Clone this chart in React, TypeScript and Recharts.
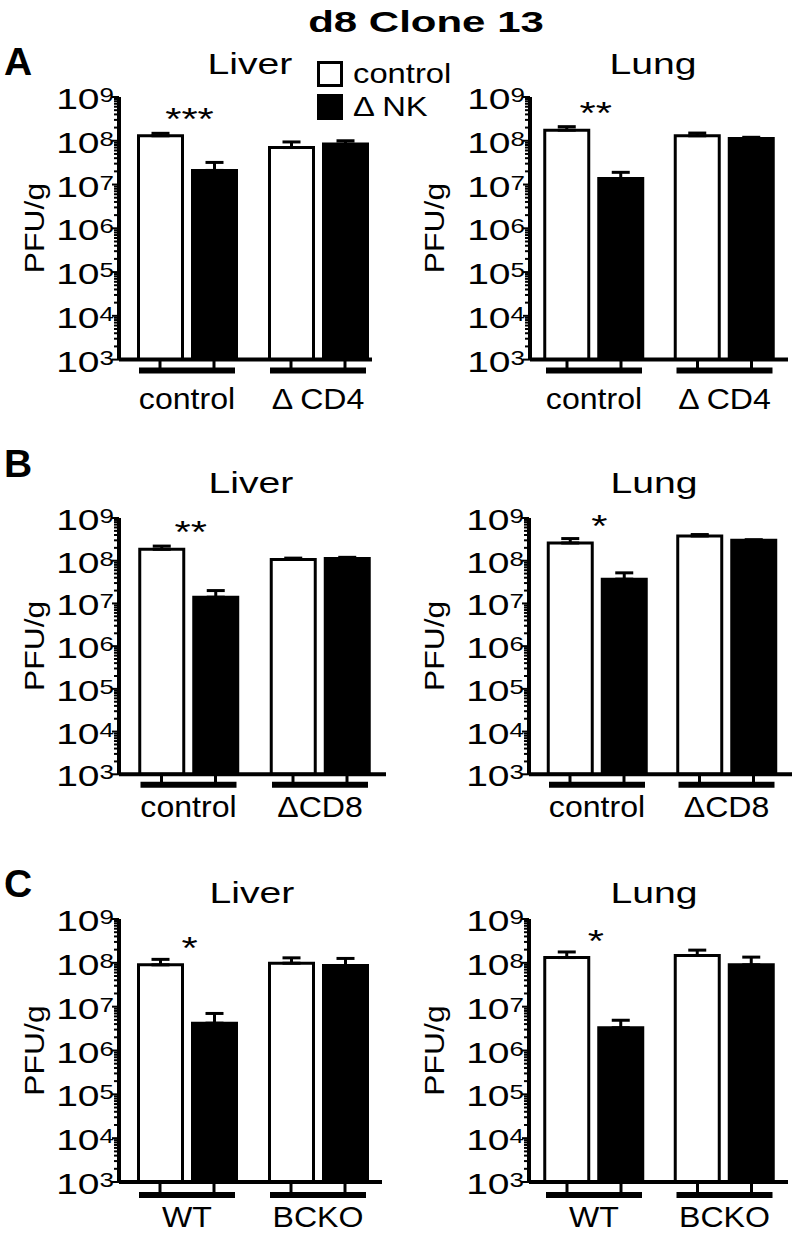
import React from 'react';
import { BarChart, Bar, XAxis, YAxis, ErrorBar, LabelList } from 'recharts';

const FONT = '"Liberation Sans", Arial, Helvetica, sans-serif';

// x-axis groups for each row
const groupsA = ['control', 'Δ CD4'];
const groupsB = ['control', 'ΔCD8'];
const groupsC = ['WT', 'BCKO'];

// PFU/g, mean and upper error (control = open bars, ΔNK = filled bars)
const liverACtrl = [1.3e8, 7.0e7];
const liverACtrlErr = [1.8e7, 2.4e7];
const liverANk = [2.1e7, 8.4e7];
const liverANkErr = [1.1e7, 1.6e7];
const liverASig = ['***', ''];

const lungACtrl = [1.75e8, 1.3e8];
const lungACtrlErr = [3.5e7, 2.0e7];
const lungANk = [1.37e7, 1.12e8];
const lungANkErr = [5.3e6, 8e6];
const lungASig = ['**', ''];

const liverBCtrl = [1.85e8, 1.07e8];
const liverBCtrlErr = [3.5e7, 8e6];
const liverBNk = [1.4e7, 1.13e8];
const liverBNkErr = [6e6, 7e6];
const liverBSig = ['**', ''];

const lungBCtrl = [2.6e8, 3.8e8];
const lungBCtrlErr = [7e7, 3e7];
const lungBNk = [3.7e7, 3.0e8];
const lungBNkErr = [1.5e7, 1e7];
const lungBSig = ['*', ''];

const liverCCtrl = [9.0e7, 9.8e7];
const liverCCtrlErr = [3.0e7, 3.2e7];
const liverCNk = [4.2e6, 8.7e7];
const liverCNkErr = [2.8e6, 3.9e7];
const liverCSig = ['*', ''];

const lungCCtrl = [1.32e8, 1.47e8];
const lungCCtrlErr = [4.5e7, 4.8e7];
const lungCNk = [3.3e6, 9.0e7];
const lungCNkErr = [1.6e6, 4.5e7];
const lungCSig = ['*', ''];

const series = [
  { key: 'ctrl', name: 'control', fill: '#fff' },
  { key: 'nk', name: 'Δ NK', fill: '#000' },
];

// log axis ticks: decades plus 2..9 minor ticks
const decades = [1e3, 1e4, 1e5, 1e6, 1e7, 1e8, 1e9];
const minorSteps = [2, 3, 4, 5, 6, 7, 8, 9];
const yTicks = decades.flatMap((d, i) => (i < decades.length - 1 ? [d, ...minorSteps.map((m) => m * d)] : [d]));

const rowLetters = [
  { text: 'A', y: 75 },
  { text: 'B', y: 477 },
  { text: 'C', y: 897 },
];

const MT = 40;
const XH = 60;

const panels = [
  { title: 'Liver', groups: groupsA, ctrl: liverACtrl, ctrlErr: liverACtrlErr, nk: liverANk, nkErr: liverANkErr, sig: liverASig,
    left: 0, axisX: 119, top: 96.7, bottom: 359.3, c1: 187, c2: 318, end: 372, groupDy: 11, labelDy: 49, titleX: 250, titleY: 74 },
  { title: 'Lung', groups: groupsA, ctrl: lungACtrl, ctrlErr: lungACtrlErr, nk: lungANk, nkErr: lungANkErr, sig: lungASig,
    left: 400, axisX: 530, top: 96.7, bottom: 359.3, c1: 594, c2: 724.5, end: 788, groupDy: 11, labelDy: 49, titleX: 653, titleY: 74 },
  { title: 'Liver', groups: groupsB, ctrl: liverBCtrl, ctrlErr: liverBCtrlErr, nk: liverBNk, nkErr: liverBNkErr, sig: liverBSig,
    left: 0, axisX: 119, top: 517.7, bottom: 774, c1: 188.5, c2: 320, end: 386, groupDy: 10.5, labelDy: 43, titleX: 251, titleY: 493 },
  { title: 'Lung', groups: groupsB, ctrl: lungBCtrl, ctrlErr: lungBCtrlErr, nk: lungBNk, nkErr: lungBNkErr, sig: lungBSig,
    left: 400, axisX: 529, top: 517.7, bottom: 774, c1: 597, c2: 726.5, end: 792, groupDy: 10.5, labelDy: 43, titleX: 654, titleY: 493 },
  { title: 'Liver', groups: groupsC, ctrl: liverCCtrl, ctrlErr: liverCCtrlErr, nk: liverCNk, nkErr: liverCNkErr, sig: liverCSig,
    left: 0, axisX: 119, top: 919, bottom: 1182, c1: 187, c2: 318, end: 382, groupDy: 13, labelDy: 45, titleX: 252, titleY: 903 },
  { title: 'Lung', groups: groupsC, ctrl: lungCCtrl, ctrlErr: lungCCtrlErr, nk: lungCNk, nkErr: lungCNkErr, sig: lungCSig,
    left: 400, axisX: 529, top: 919, bottom: 1182, c1: 594, c2: 724.5, end: 788, groupDy: 13, labelDy: 45, titleX: 654, titleY: 903 },
];

function Wide({ x, y, sx = 1, size, anchor = 'start', weight = 'normal', children }: any) {
  return (
    <g transform={`translate(${x},${y}) scale(${sx},1)`}>
      <text x={0} y={0} textAnchor={anchor} fontFamily={FONT} fontSize={size} fontWeight={weight} fill="#000">
        {children}
      </text>
    </g>
  );
}

function LogTick(props: any) {
  const { x, y, payload } = props;
  const v = payload.value;
  const major = decades.includes(v);
  const len = major ? 7 : 5;
  return (
    <g>
      <line x1={x - len} x2={x} y1={y} y2={y} stroke="#000" strokeWidth={2} />
      {major && (
        <g transform={`translate(${x - 5},${y + 12}) scale(1.3,1)`}>
          <text x={0} y={0} textAnchor="end" fontFamily={FONT} fontSize={30} fill="#000">
            10
            <tspan fontSize={20} dy={-7}>
              {Math.round(Math.log10(v))}
            </tspan>
          </text>
        </g>
      )}
    </g>
  );
}

function XTick(props: any) {
  const { x, y, payload, groupDy, labelDy } = props;
  const gy = y + groupDy;
  return (
    <g>
      <line x1={x - 27} x2={x - 27} y1={y} y2={gy} stroke="#000" strokeWidth={3} />
      <line x1={x + 27} x2={x + 27} y1={y} y2={gy} stroke="#000" strokeWidth={3} />
      <line x1={x - 48} x2={x + 48} y1={gy} y2={gy} stroke="#000" strokeWidth={6} />
      <Wide x={x} y={y + labelDy} sx={1.07} size={30} anchor="middle">
        {payload.value}
      </Wide>
    </g>
  );
}

function SigLabel(props: any) {
  const vb = props.viewBox || props;
  const x = vb.x ?? props.x;
  const y = vb.y ?? props.y;
  if (!props.value) return null;
  return (
    <Wide x={x + 51} y={y - 6} sx={1.3} size={32} anchor="middle">
      {props.value}
    </Wide>
  );
}

function Panel({ p }: any) {
  const data = p.groups.map((g: string, i: number) => ({
    group: g,
    ctrl: p.ctrl[i],
    nk: p.nk[i],
    ctrlErr: [0, p.ctrlErr[i]],
    nkErr: [0, p.nkErr[i]],
    sig: p.sig[i],
  }));
  const w = p.c2 - p.c1;
  const padL = p.c1 - w / 2 - p.axisX;
  const padR = p.end - p.axisX - padL - 2 * w;
  const height = p.bottom - p.top + MT + XH;
  const width = p.end + 10 - p.left;
  return (
    <div style={{ position: 'absolute', left: p.left, top: p.top - MT }}>
      <BarChart width={width} height={height} data={data} margin={{ top: MT, right: 10, bottom: 0, left: 0 }} barSize={44} barGap={10}>
        <XAxis
          dataKey="group"
          type="category"
          height={XH}
          padding={{ left: padL, right: padR }}
          axisLine={{ stroke: '#000', strokeWidth: 4 }}
          tickLine={false}
          tickSize={0}
          tickMargin={0}
          interval={0}
          tick={(tp: any) => <XTick {...tp} groupDy={p.groupDy} labelDy={p.labelDy} />}
        />
        <YAxis
          type="number"
          scale="log"
          domain={[1e3, 1e9]}
          allowDataOverflow
          ticks={yTicks}
          interval={0}
          width={p.axisX - p.left}
          axisLine={{ stroke: '#000', strokeWidth: 4 }}
          tickLine={false}
          tickSize={0}
          tickMargin={0}
          tick={(tp: any) => <LogTick {...tp} />}
        />
        <Bar dataKey="ctrl" fill={series[0].fill} stroke="#000" strokeWidth={3} isAnimationActive={false}>
          <ErrorBar dataKey="ctrlErr" direction="y" width={9} stroke="#000" strokeWidth={3} />
          <LabelList dataKey="sig" content={(lp: any) => <SigLabel {...lp} />} />
        </Bar>
        <Bar dataKey="nk" fill={series[1].fill} stroke="#000" strokeWidth={3} isAnimationActive={false}>
          <ErrorBar dataKey="nkErr" direction="y" width={9} stroke="#000" strokeWidth={3} />
        </Bar>
      </BarChart>
    </div>
  );
}

export default function App() {
  return (
    <div style={{ position: 'absolute', left: 0, top: 0, width: 797, height: 1235, background: '#fff', overflow: 'hidden' }}>
      {panels.map((p, i) => (
        <Panel key={i} p={p} />
      ))}
      <svg width={797} height={1235} style={{ position: 'absolute', left: 0, top: 0, pointerEvents: 'none' }}>
        <Wide x={426} y={32} sx={1.4} size={30} weight="bold" anchor="middle">
          d8 Clone 13
        </Wide>
        {rowLetters.map((r) => (
          <Wide key={r.text} x={4} y={r.y} size={39} weight="bold">
            {r.text}
          </Wide>
        ))}
        {panels.map((p, i) => (
          <Wide key={'t' + i} x={p.titleX} y={p.titleY} sx={1.35} size={29} anchor="middle">
            {p.title}
          </Wide>
        ))}
        {panels.map((p, i) => (
          <g key={'y' + i} transform={`translate(${p.left + 44},${(p.top + p.bottom) / 2}) rotate(-90) scale(1.18,1)`}>
            <text x={0} y={0} textAnchor="middle" fontFamily={FONT} fontSize={27} fill="#000">
              PFU/g
            </text>
          </g>
        ))}
        {series.map((s, i) => (
          <g key={s.key}>
            <rect x={318.5} y={62.5 + i * 33} width={23} height={23} fill={s.fill} stroke="#000" strokeWidth={3} />
            <Wide x={353} y={83 + i * 33} sx={1.17} size={28}>
              {s.name}
            </Wide>
          </g>
        ))}
      </svg>
    </div>
  );
}
